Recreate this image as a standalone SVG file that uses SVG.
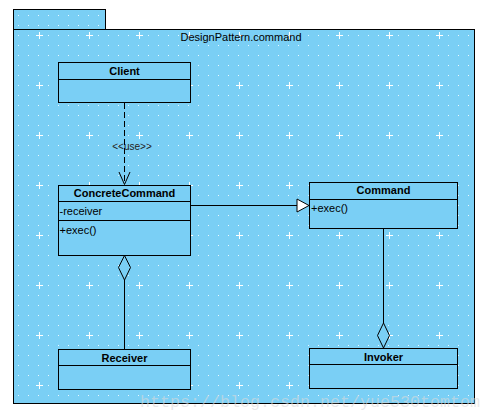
<svg xmlns="http://www.w3.org/2000/svg" width="491" height="420" viewBox="0 0 491 420">
<defs>
<pattern id="dots" patternUnits="userSpaceOnUse" x="8" y="5" width="10" height="10">
<rect x="0" y="0" width="1" height="1" fill="#ffffff" fill-opacity="0.85"/>
</pattern>
<pattern id="plus" patternUnits="userSpaceOnUse" x="14" y="10" width="50" height="50">
<rect x="22" y="25" width="7" height="1" fill="#ffffff"/>
<rect x="25" y="22" width="1" height="7" fill="#ffffff"/>
</pattern>
<style>
.bg{fill:#7acff5;}
.box{fill:#7acff5;stroke:#000;stroke-width:1;}
.ln{stroke:#000;stroke-width:1;fill:none;}
.name{font-family:"Liberation Sans",Arial,sans-serif;font-size:11px;font-weight:bold;fill:#000;text-anchor:middle;}
.mem{font-family:"Liberation Sans",Arial,sans-serif;font-size:11px;fill:#000;}
.lbl{font-family:"Liberation Sans",Arial,sans-serif;font-size:10px;fill:#222;text-anchor:middle;}
</style>
</defs>
<rect x="0" y="0" width="491" height="420" fill="#ffffff"/>
<g id="package">
<rect x="13.5" y="9.5" width="92" height="20" class="box"/>
<rect x="13.5" y="29.5" width="461" height="374" class="box"/>
<rect x="14" y="10" width="91" height="19" fill="url(#dots)"/>
<rect x="14" y="30" width="460" height="373" fill="url(#dots)"/>
<rect x="14" y="30" width="460" height="373" fill="url(#plus)"/>
<text x="241" y="41" class="mem" text-anchor="middle">DesignPattern.command</text>
</g>
<g id="connectors">
<line x1="124.5" y1="103" x2="124.5" y2="184" class="ln" stroke-dasharray="6,3"/>
<polyline points="119,172 124.5,184.5 130,172" class="ln"/>
<text x="132" y="150" class="lbl">&lt;&lt;use&gt;&gt;</text>
<line x1="190.5" y1="205.5" x2="297" y2="205.5" class="ln"/>
<polygon points="297,199 309,205.5 297,212" fill="#ffffff" stroke="#000" stroke-width="1"/>
<line x1="124.5" y1="280" x2="124.5" y2="349" class="ln"/>
<polygon points="124.5,255.5 130.5,267.5 124.5,280 118.5,267.5" class="box"/>
<line x1="383.5" y1="228.5" x2="383.5" y2="323" class="ln"/>
<polygon points="383.5,323 389.5,335.5 383.5,348 377.5,335.5" class="box"/>
</g>
<g id="Client">
<rect x="58.5" y="62.5" width="132" height="40" class="box"/>
<line x1="58.5" y1="79.5" x2="190.5" y2="79.5" class="ln"/>
<text x="124.5" y="75" class="name">Client</text>
</g>
<g id="ConcreteCommand">
<rect x="58.5" y="185.5" width="132" height="70" class="box"/>
<line x1="58.5" y1="201.5" x2="190.5" y2="201.5" class="ln"/>
<line x1="58.5" y1="220.5" x2="190.5" y2="220.5" class="ln"/>
<text x="124.5" y="197" class="name">ConcreteCommand</text>
<text x="59.5" y="215" class="mem">-receiver</text>
<text x="59.5" y="234" class="mem">+exec()</text>
</g>
<g id="Command">
<rect x="309.5" y="182.5" width="148" height="46" class="box"/>
<line x1="309.5" y1="199.5" x2="457.5" y2="199.5" class="ln"/>
<text x="383.5" y="194" class="name">Command</text>
<text x="311" y="212" class="mem">+exec()</text>
</g>
<g id="Receiver">
<rect x="58.5" y="349.5" width="132" height="40" class="box"/>
<line x1="58.5" y1="365.5" x2="190.5" y2="365.5" class="ln"/>
<text x="124.5" y="362" class="name">Receiver</text>
</g>
<g id="Invoker">
<rect x="309.5" y="348.5" width="148" height="40" class="box"/>
<line x1="309.5" y1="364.5" x2="457.5" y2="364.5" class="ln"/>
<text x="383.5" y="361" class="name">Invoker</text>
</g>
<text x="140" y="407" font-family="'Liberation Mono','DejaVu Sans Mono',monospace" font-size="17" textLength="340" lengthAdjust="spacingAndGlyphs" fill="#d9d9d9" fill-opacity="0.6">https://blog.csdn.net/yue530tomtom</text>
</svg>
